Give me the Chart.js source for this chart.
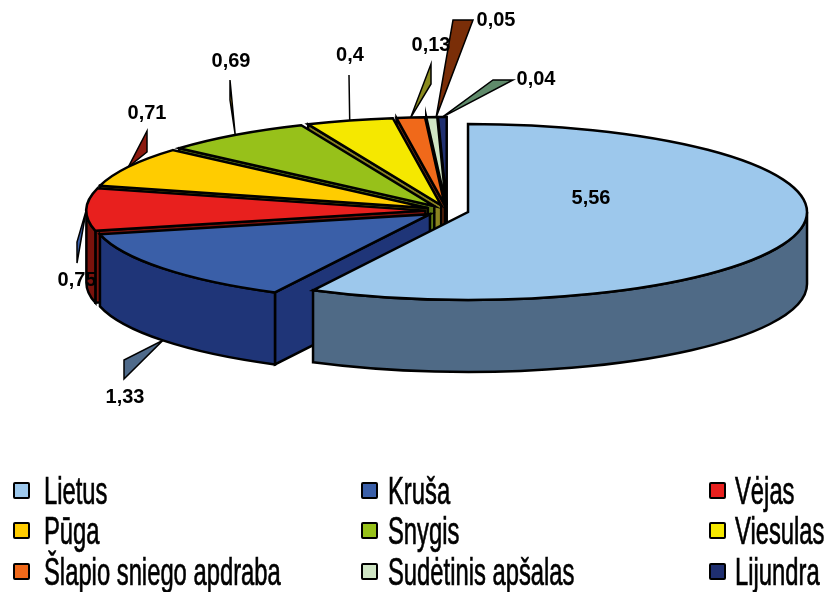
<!DOCTYPE html>
<html>
<head>
<meta charset="utf-8">
<script src="https://cdn.jsdelivr.net/npm/chart.js@4"></script>
<style>
    html, body { margin: 0; background: #fff; }
    #wrap { position: relative; width: 827px; height: 592px; overflow: hidden; }
    #pie { position: absolute; left: 0; top: 0; }
    .item { position: absolute; height: 40px; }
    .box { position: absolute; left: 0; top: 11px; width: 13px; height: 13px; border: 2px solid #000; border-radius: 2px; }
    .txt {
        position: absolute; top: 0; white-space: nowrap; color: #000;
        font: 39px/40px "Liberation Sans Narrow", "Liberation Sans", sans-serif;
        transform-origin: 0 50%; transform: scaleX(0.61); -webkit-text-stroke: 0.7px #000;
    }
</style>
</head>
<body>
<div id="wrap">
    <canvas id="pie" width="827" height="592"></canvas>
    <div id="legend"></div>
</div>
<script>
const categories = ['Lietus', 'Kruša', 'Vėjas', 'Pūga', 'Snygis', 'Viesulas', 'Šlapio sniego apdraba', 'Sudėtinis apšalas', 'Lijundra'];
const values = [5.56, 1.33, 0.75, 0.71, 0.69, 0.4, 0.13, 0.05, 0.04];
const valueLabels = ['5,56', '1,33', '0,75', '0,71', '0,69', '0,4', '0,13', '0,05', '0,04'];
const topColors = ['#9DC8EC', '#3A5FA8', '#E8201E', '#FFCC00', '#97C11A', '#F5E800', '#F0691A', '#CFE5C4', '#1F2F70'];
const sideColors = ['#4F6A86', '#1F3578', '#7A120C', '#806600', '#5F7A14', '#8B8420', '#7A3010', '#6A8A60', '#141E48'];

// how the flat pie is laid over on its side
const view = { cx: 447, cy: 210.7, rx: 339, ry: 88, depth: 72, explode: 0.0638 };

// where each value label sits, and the odd leader wedge Excel drew to it
const labelPos = [[591, 198], [125, 397], [77, 280], [147, 113], [231, 61], [350, 55], [431, 45], [496, 20], [536, 79]];
const leaderEnds = [
    null,
    [[124, 379], [124, 360]],
    [[77, 263], [77, 242]],
    [[147, 152], [147, 131]],
    [[230, 100], [230, 80]],
    [[349, 75], [349, 75]],
    [[431, 84], [431, 64]],
    [[453, 20], [473, 20]],
    [[493, 80], [513, 80]]
];
const leaderColors = [null, '#4F6A8A', '#3A5FA8', '#8B1A10', '#C89A10', '#000', '#8B8B1E', '#7A2E08', '#5F8A6A'];
const leaderAlong = [0.5, 0.5, 0.5, 0.5, 0.5, 0.5, 0.5, 0.9, 0.5];

function sliceCenter(arc) {
    const mid = (arc.startAngle + arc.endAngle) / 2;
    return {
        x: view.cx + Math.cos(mid) * view.explode * view.rx,
        y: view.cy + Math.sin(mid) * view.explode * view.ry
    };
}

function rimPoint(c, angle, drop) {
    return { x: c.x + Math.cos(angle) * view.rx, y: c.y + Math.sin(angle) * view.ry + drop };
}

function paint(ctx, fill) {
    ctx.fillStyle = fill;
    ctx.fill();
    ctx.stroke();
}

function drawSlice(ctx, arc, i) {
    const c = sliceCenter(arc);
    const from = arc.startAngle, to = arc.endAngle;

    // wall along the cut, only the slices on the left side show it
    if (from > Math.PI / 2) {
        const p = rimPoint(c, from, 0);
        ctx.beginPath();
        ctx.moveTo(c.x, c.y);
        ctx.lineTo(p.x, p.y);
        ctx.lineTo(p.x, p.y + view.depth);
        ctx.lineTo(c.x, c.y + view.depth);
        ctx.closePath();
        paint(ctx, sideColors[i]);
    }

    // outer rim, only the part facing us
    const a0 = Math.max(from, 0), a1 = Math.min(to, Math.PI);
    if (a1 > a0) {
        ctx.beginPath();
        ctx.ellipse(c.x, c.y, view.rx, view.ry, 0, a0, a1);
        ctx.ellipse(c.x, c.y + view.depth, view.rx, view.ry, 0, a1, a0, true);
        ctx.closePath();
        paint(ctx, sideColors[i]);
    }

    // top face
    ctx.beginPath();
    ctx.moveTo(c.x, c.y);
    ctx.ellipse(c.x, c.y, view.rx, view.ry, 0, from, to);
    ctx.closePath();
    paint(ctx, topColors[i]);
}

function drawLeader(ctx, arc, i) {
    if (!leaderEnds[i]) return;
    const mid = (arc.startAngle + arc.endAngle) / 2;
    const at = arc.startAngle + (arc.endAngle - arc.startAngle) * leaderAlong[i];
    const facing = mid > 0 && mid < Math.PI;
    const tip = rimPoint(sliceCenter(arc), at, facing ? view.depth : 0);
    ctx.beginPath();
    ctx.moveTo(tip.x, tip.y);
    leaderEnds[i].forEach(p => ctx.lineTo(p[0], p[1]));
    ctx.closePath();
    ctx.lineWidth = 1.5;
    paint(ctx, leaderColors[i]);
}

const pie3d = {
    id: 'pie3d',
    beforeDatasetsDraw(chart) {
        const ctx = chart.ctx;
        const arcs = chart.getDatasetMeta(0).data;
        ctx.save();
        ctx.strokeStyle = '#000';
        ctx.lineJoin = 'miter';
        arcs.forEach((arc, i) => drawLeader(ctx, arc, i));
        ctx.lineWidth = 2.5;
        // back slices first, Lietus last so it covers the rest
        for (let i = arcs.length - 1; i >= 0; i--) {
            drawSlice(ctx, arcs[i], i);
        }
        ctx.fillStyle = '#000';
        ctx.font = 'bold 20px "Liberation Sans", Arial, sans-serif';
        ctx.textAlign = 'center';
        ctx.textBaseline = 'middle';
        valueLabels.forEach((t, i) => ctx.fillText(t, labelPos[i][0], labelPos[i][1]));
        ctx.restore();
        return false;
    }
};

const chart = new Chart(document.getElementById('pie').getContext('2d'), {
    type: 'pie',
    data: {
        labels: categories,
        datasets: [{ data: values, backgroundColor: topColors }]
    },
    options: {
        responsive: false,
        animation: false,
        plugins: { legend: { display: false }, tooltip: { enabled: false } }
    },
    plugins: [pie3d]
});

// Legend in three columns, the built in one can't line up a grid
const legendCols = [[13, 44], [361, 388], [709, 735]];
const legendRows = [471, 511, 552];
const legend = document.getElementById('legend');
chart.options.plugins.legend.labels.generateLabels(chart).forEach((item, i) => {
    const col = legendCols[i % 3];
    const row = legendRows[Math.floor(i / 3)];
    const el = document.createElement('div');
    el.className = 'item';
    el.style.left = col[0] + 'px';
    el.style.top = row + 'px';
    el.innerHTML = '<span class="box"></span><span class="txt"></span>';
    el.querySelector('.box').style.background = item.fillStyle;
    const txt = el.querySelector('.txt');
    txt.style.left = (col[1] - col[0]) + 'px';
    txt.textContent = item.text;
    legend.appendChild(el);
});
</script>
</body>
</html>
